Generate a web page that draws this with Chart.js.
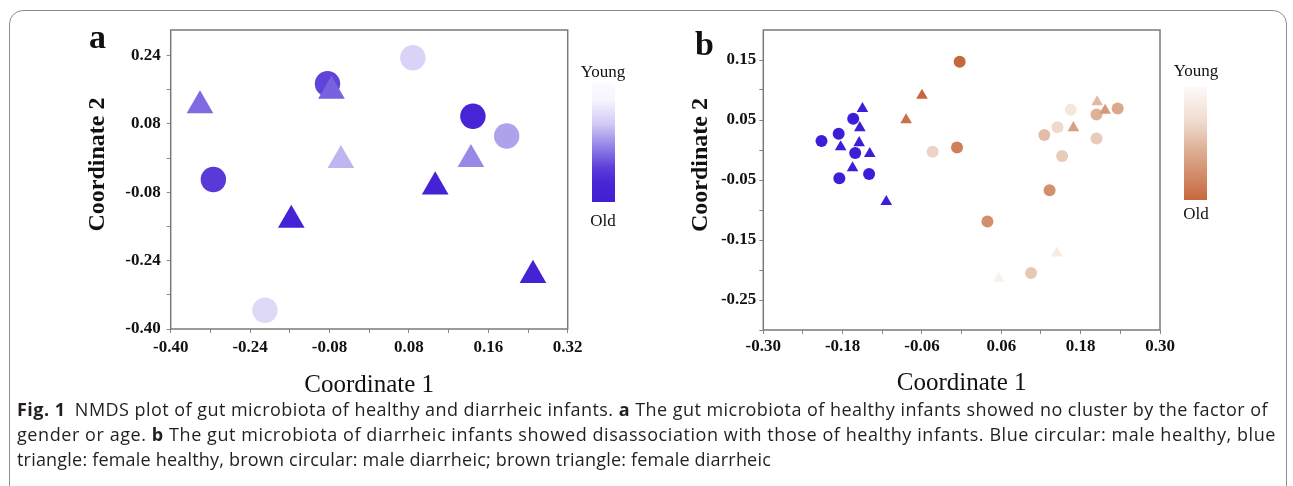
<!DOCTYPE html>
<html>
<head>
<meta charset="utf-8">
<script src="https://cdn.jsdelivr.net/npm/chart.js@4.4.1/dist/chart.umd.min.js"></script>
<style>
  body { margin: 0; width: 1293px; height: 486px; overflow: hidden; background: #fff; position: relative; }
  .frame { position: absolute; left: 9px; top: 10px; width: 1276px; height: 540px; border: 1.5px solid #8c8c8c; border-radius: 14px; }
  canvas { position: absolute; top: 0; }
  #chartA { left: 0; }
  #chartB { left: 640px; }
  .letter { position: absolute; font: bold 34px "Liberation Serif", serif; line-height: 34px; color: #111; }
  .bar { position: absolute; }
  .barlabel { position: absolute; width: 70px; text-align: center; font: 17px "Liberation Serif", serif; line-height: 20px; color: #111; }
  .caption { position: absolute; left: 17px; top: 397px; font: 18px "Open Sans", sans-serif; line-height: 25px; color: #231f20; }
  .caption div { white-space: nowrap; }
</style>
</head>
<body>
<div class="frame"></div>
<canvas id="chartA" width="640" height="400"></canvas>
<canvas id="chartB" width="653" height="400"></canvas>
<div class="letter" style="left:89px; top:20px;">a</div>
<div class="letter" style="left:695px; top:27px;">b</div>
<div class="bar" id="barA" style="left:592px; top:83px; width:23px; height:119px;"></div>
<div class="bar" id="barB" style="left:1184px; top:87px; width:23px; height:113px;"></div>
<div class="barlabel" style="left:568px; top:62px;">Young</div>
<div class="barlabel" style="left:568px; top:211px;">Old</div>
<div class="barlabel" style="left:1161px; top:61px;">Young</div>
<div class="barlabel" style="left:1161px; top:204px;">Old</div>
<div class="caption">
  <div class="line"><b>Fig. 1</b>&ensp;NMDS plot of gut microbiota of healthy and diarrheic infants. <b>a</b> The gut microbiota of healthy infants showed no cluster by the factor of</div>
  <div class="line">gender or age. <b>b</b> The gut microbiota of diarrheic infants showed disassociation with those of healthy infants. Blue circular: male healthy, blue</div>
  <div class="line">triangle: female healthy, brown circular: male diarrheic; brown triangle: female diarrheic</div>
</div>
<script>
// panel a: healthy infants (age 0 = young, 1 = old)
const aMaleX = [-0.084, 0.088, 0.209, 0.277, -0.314, -0.210];
const aMaleY = [0.174, 0.235, 0.098, 0.052, -0.050, -0.356];
const aMaleAge = [0.70, 0.30, 0.85, 0.45, 0.73, 0.27];
const aFemaleX = [-0.341, -0.076, -0.057, 0.205, 0.133, -0.157, 0.330];
const aFemaleY = [0.123, 0.157, -0.005, -0.003, -0.067, -0.145, -0.274];
const aFemaleAge = [0.60, 0.62, 0.40, 0.52, 0.92, 0.92, 0.92];

// panel b: healthy (blue) vs diarrheic (brown)
const bHealthyMaleX = [-0.212, -0.186, -0.164, -0.161, -0.185, -0.140];
const bHealthyMaleY = [0.015, 0.027, 0.052, -0.005, -0.047, -0.040];
const bHealthyFemaleX = [-0.150, -0.154, -0.183, -0.155, -0.139, -0.165, -0.114];
const bHealthyFemaleY = [0.069, 0.037, 0.005, 0.012, -0.006, -0.030, -0.086];
const bDiarMaleX = [-0.003, -0.007, -0.044, 0.039, 0.105, 0.133, 0.125, 0.145, 0.152, 0.165, 0.204, 0.204, 0.236];
const bDiarMaleY = [0.147, 0.004, -0.003, -0.119, -0.205, -0.067, 0.025, 0.038, -0.010, 0.067, 0.059, 0.019, 0.069];
const bDiarMaleAge = [1.0, 0.85, 0.35, 0.75, 0.42, 0.75, 0.48, 0.32, 0.40, 0.20, 0.55, 0.40, 0.60];
const bDiarFemaleX = [-0.084, -0.060, 0.169, 0.205, 0.217, 0.144, 0.056];
const bDiarFemaleY = [0.050, 0.091, 0.037, 0.080, 0.066, -0.172, -0.214];
const bDiarFemaleAge = [0.95, 1.0, 0.65, 0.50, 0.70, 0.15, 0.08];

// axis ticks as printed in the figure
const aXTicks = [-0.40, -0.32, -0.24, -0.16, -0.08, 0, 0.08, 0.16, 0.24, 0.32, 0.40];
const aXLabels = ['-0.40', '', '-0.24', '', '-0.08', '', '0.08', '', '0.16', '', '0.32'];
const aYTicks = [-0.40, -0.32, -0.24, -0.16, -0.08, 0, 0.08, 0.16, 0.24];
const aYLabels = ['-0.40', '', '-0.24', '', '-0.08', '', '0.08', '', '0.24'];
const bXTicks = [-0.30, -0.24, -0.18, -0.12, -0.06, 0, 0.06, 0.12, 0.18, 0.24, 0.30];
const bXLabels = ['-0.30', '', '-0.18', '', '-0.06', '', '0.06', '', '0.18', '', '0.30'];
const bYTicks = [-0.30, -0.25, -0.20, -0.15, -0.10, -0.05, 0, 0.05, 0.10, 0.15];
const bYLabels = ['', '-0.25', '', '-0.15', '', '-0.05', '', '0.05', '', '0.15'];

const purpleStops = [[0, '#fcfbff'], [0.15, '#f6f4fe'], [0.35, '#d0c7f4'], [0.55, '#8e7de6'], [0.72, '#5a3cd8'], [0.85, '#4724d5'], [1, '#4220d2']];
const brownStops = [[0, '#fdf9f7'], [0.3, '#f0dcd0'], [0.6, '#dba88c'], [1, '#c6683e']];
const healthyBlue = '#3b1fd8';

function hexRgb(h) {
  return [1, 3, 5].map(i => parseInt(h.slice(i, i + 2), 16));
}
function shade(stops, t) {
  for (let i = 1; i < stops.length; i++) {
    if (t <= stops[i][0]) {
      const f = (t - stops[i - 1][0]) / (stops[i][0] - stops[i - 1][0]);
      const c0 = hexRgb(stops[i - 1][1]), c1 = hexRgb(stops[i][1]);
      return 'rgb(' + c0.map((v, k) => Math.round(v + (c1[k] - v) * f)).join(',') + ')';
    }
  }
  return stops[stops.length - 1][1];
}
function cssGradient(stops) {
  return 'linear-gradient(to bottom, ' + stops.map(s => s[1] + ' ' + (s[0] * 100) + '%').join(', ') + ')';
}
document.getElementById('barA').style.background = cssGradient(purpleStops);
document.getElementById('barB').style.background = cssGradient(brownStops);

const pts = (xs, ys) => xs.map((x, i) => ({ x: x, y: ys[i] }));
const tickFont = { family: 'Liberation Serif', size: 17, weight: 'bold' };

function axis(min, max, values, labels, pad, fit, title) {
  return {
    type: 'linear', min: min, max: max,
    afterBuildTicks: s => { s.ticks = values.map(v => ({ value: v })); },
    afterFit: fit,
    border: { display: false },
    grid: { drawOnChartArea: false, drawTicks: true, tickLength: 4, color: '#888', lineWidth: 1 },
    ticks: { autoSkip: false, maxRotation: 0, padding: pad, color: '#111', font: tickFont,
             callback: (v, i) => labels[i] },
    title: title
  };
}

const boxPlugin = {
  id: 'box',
  afterDraw(chart) {
    const { ctx, chartArea: a } = chart;
    ctx.save();
    ctx.strokeStyle = '#7a7a7a';
    ctx.lineWidth = 1.5;
    ctx.strokeRect(a.left, a.top, a.right - a.left, a.bottom - a.top);
    ctx.restore();
  }
};

const common = {
  responsive: false,
  animation: false,
  plugins: { legend: { display: false }, tooltip: { enabled: false } }
};

const xTitle = { display: true, text: 'Coordinate 1', color: '#111', padding: 0,
                 font: { family: 'Liberation Serif', size: 25 } };
// leading spaces lift the rotated title a little, as in the figure
const yTitle = { display: true, text: '     Coordinate 2', color: '#111', padding: 0,
                 font: { family: 'Liberation Serif', size: 24, weight: 'bold' } };

new Chart(document.getElementById('chartA'), {
  type: 'scatter',
  data: {
    datasets: [
      { label: 'female', data: pts(aFemaleX, aFemaleY), pointStyle: 'triangle', pointRadius: 15.4, borderWidth: 0,
        backgroundColor: c => shade(purpleStops, aFemaleAge[c.dataIndex]) },
      { label: 'male', data: pts(aMaleX, aMaleY), pointStyle: 'circle', pointRadius: 12.7, borderWidth: 0,
        backgroundColor: c => shade(purpleStops, aMaleAge[c.dataIndex]) }
    ]
  },
  options: Object.assign({}, common, {
    layout: { padding: { left: 83.6, top: 30, right: 72.3, bottom: 0 } },
    scales: {
      x: axis(-0.40, 0.40, aXTicks, aXLabels, 4.5, s => { s.height = 71; }, xTitle),
      y: axis(-0.40, 0.30, aYTicks, aYLabels, 6, s => { s.width = 87.1; }, yTitle)
    }
  }),
  plugins: [boxPlugin]
});

new Chart(document.getElementById('chartB'), {
  type: 'scatter',
  data: {
    datasets: [
      { label: 'female diarrheic', data: pts(bDiarFemaleX, bDiarFemaleY), pointStyle: 'triangle', pointRadius: 6.7, borderWidth: 0,
        backgroundColor: c => shade(brownStops, bDiarFemaleAge[c.dataIndex]) },
      { label: 'female healthy', data: pts(bHealthyFemaleX, bHealthyFemaleY), pointStyle: 'triangle', pointRadius: 6.7, borderWidth: 0,
        backgroundColor: healthyBlue },
      { label: 'male diarrheic', data: pts(bDiarMaleX, bDiarMaleY), pointStyle: 'circle', pointRadius: 6, borderWidth: 0,
        backgroundColor: c => shade(brownStops, bDiarMaleAge[c.dataIndex]) },
      { label: 'male healthy', data: pts(bHealthyMaleX, bHealthyMaleY), pointStyle: 'circle', pointRadius: 6, borderWidth: 0,
        backgroundColor: healthyBlue }
    ]
  },
  options: Object.assign({}, common, {
    layout: { padding: { left: 46.6, top: 30, right: 133, bottom: 2 } },
    scales: {
      x: axis(-0.30, 0.30, bXTicks, bXLabels, 2.5, s => { s.height = 68; }, xTitle),
      y: axis(-0.30, 0.20, bYTicks, bYLabels, 3, s => { s.width = 76.7; }, yTitle)
    }
  }),
  plugins: [boxPlugin]
});

// stretch caption lines to the widths they take in the figure
const lineWidths = [1251, 1259, 754];
document.querySelectorAll('.caption .line').forEach((el, i) => {
  el.style.display = 'inline-block';
  const w = el.getBoundingClientRect().width;
  const n = el.textContent.length;
  el.style.letterSpacing = ((lineWidths[i] - w) / n) + 'px';
  el.style.display = 'block';
});
</script>
</body>
</html>
